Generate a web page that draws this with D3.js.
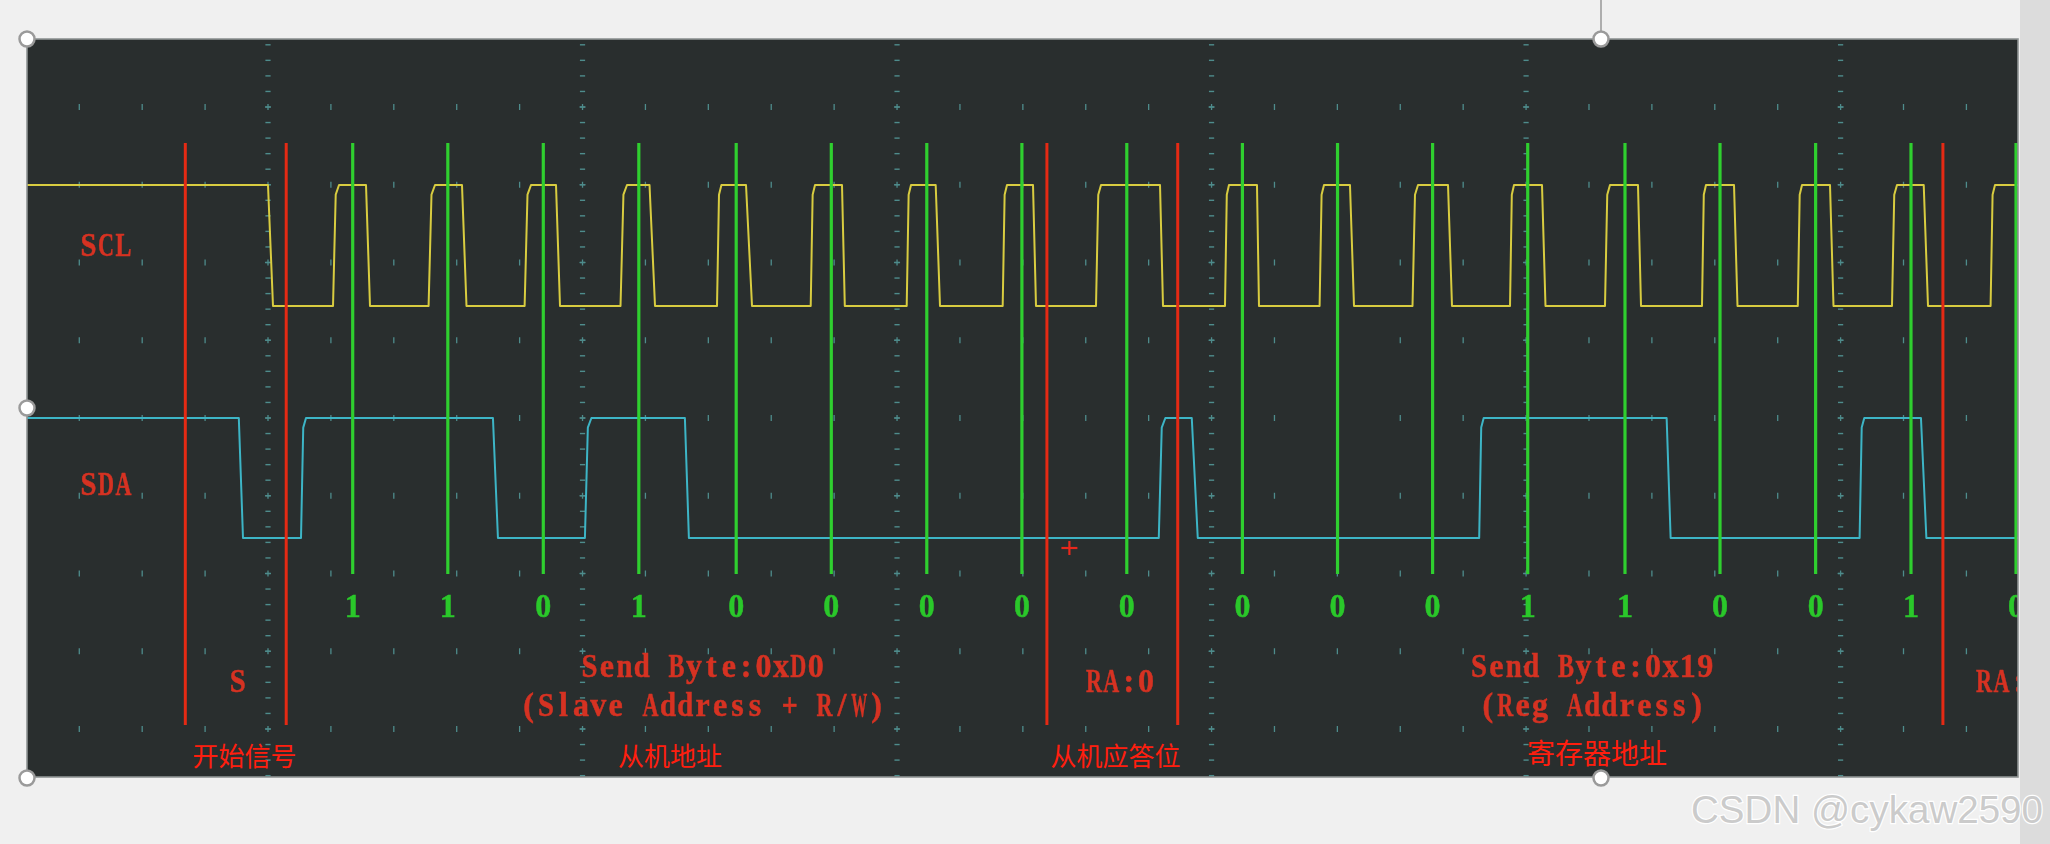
<!DOCTYPE html>
<html>
<head>
<meta charset="utf-8">
<script src="https://cdn.jsdelivr.net/npm/d3@7"></script>
<style>
html,body{margin:0;padding:0;background:#f0f0f0;}
svg{display:block;}
</style>
</head>
<body>
<svg id="chart" width="2050" height="844"></svg>
<script>
// ---------------- DATA (time in scope units, 10 units per major division) ----------------
const channelNames = ["SCL", "SDA"];

// green sampling markers (SCL high centre) and decoded bits
const clockTimes = [2.693, 5.717, 8.753, 11.790, 14.886, 17.910, 20.946, 23.970, 27.305,
                    30.981, 34.005, 37.028, 40.052, 43.145, 46.166, 49.206, 52.238, 55.577];
const bitValues  = [1, 1, 0, 1, 0, 0, 0, 0, 0, 0, 0, 0, 1, 1, 0, 0, 1, 0];

// red frame markers
const markerTimes = [-2.629, 0.579, 24.765, 28.924, 53.253];

// SCL: initial falling edge (start,end) then pulses [riseStart, riseEnd, fallStart, fallEnd]
const sclInitialFall = [0.0, 0.159];
const sclPulses = [
  [2.067, 2.258, 3.116, 3.243],
  [5.106, 5.310, 6.168, 6.311],
  [8.159, 8.362, 9.157, 9.284],
  [11.208, 11.414, 12.130, 12.305],
  [14.276, 14.416, 15.198, 15.389],
  [17.255, 17.392, 18.250, 18.339],
  [20.307, 20.444, 21.229, 21.366],
  [23.359, 23.496, 24.323, 24.418],
  [26.326, 26.485, 28.361, 28.456],
  [30.427, 30.554, 31.444, 31.508],
  [33.435, 33.575, 34.401, 34.529],
  [36.389, 36.564, 37.518, 37.645],
  [39.489, 39.616, 40.506, 40.617],
  [42.509, 42.668, 43.558, 43.654],
  [45.593, 45.720, 46.611, 46.722],
  [48.639, 48.773, 49.663, 49.774],
  [51.634, 51.793, 52.643, 52.779],
  [54.769, 54.909, 56.340, 56.470]
];

// SDA: starts high, edges [start, end, newLevel]
const sdaInitialLevel = 1;
const sdaEdges = [
  [-0.928, -0.795, 0],
  [1.049, 1.208, 1],
  [7.152, 7.311, 0],
  [10.076, 10.283, 1],
  [13.255, 13.382, 0],
  [28.322, 28.531, 1],
  [29.371, 29.561, 0],
  [38.509, 38.652, 1],
  [44.469, 44.596, 0],
  [50.604, 50.753, 1],
  [52.555, 52.727, 0]
];

// scope annotation texts and their time anchors
const startLabel = "S";
const startLabelTime = -0.962;
const byteLines = [["Send Byte:0xD0", "(Slave Address + R/W)"], ["Send Byte:0x19", "(Reg Address)"]];
const byteLabelTimes = [13.82, 42.10];
const ackLabels = ["RA:0", "RA:0"];
const ackLabelTimes = [27.089, 55.39];

// Chinese captions
const captions = ["开始信号", "从机地址", "从机应答位", "寄存器地址"];
const captionTimes = [-0.747, 12.781, 26.946, 42.255];

// cursor
const cursorTime = [25.48];

const watermark = "CSDN @cykaw2590";

// ---------------- LAYOUT ----------------
const svg = d3.select("#chart");
const panel = {x0: 27, x1: 2018, y0: 39, y1: 777};

const x = d3.scaleLinear().domain([0, 50]).range([268, 1840.6]);
const tMin = x.invert(panel.x0), tMax = x.invert(panel.x1);
const rowY = d3.scaleLinear().domain([0, 8]).range([107, 729]);
const sclY = d3.scaleLinear().domain([0, 1]).range([306, 185]);
const sdaY = d3.scaleLinear().domain([0, 1]).range([538, 418]);

svg.append("rect").attr("width", 2050).attr("height", 844).attr("fill", "#f0f0f0");

const defs = svg.append("defs");
defs.append("clipPath").attr("id", "clipP").append("rect")
  .attr("x", panel.x0).attr("y", panel.y0)
  .attr("width", panel.x1 - panel.x0).attr("height", panel.y1 - panel.y0);
const soft = defs.append("filter").attr("id", "soft").attr("x", "-10%").attr("y", "-30%").attr("width", "120%").attr("height", "160%");
soft.append("feGaussianBlur").attr("stdDeviation", 0.55);

svg.append("rect").attr("x", panel.x0).attr("y", panel.y0)
  .attr("width", panel.x1 - panel.x0).attr("height", panel.y1 - panel.y0)
  .attr("fill", "#292e2e");

const g = svg.append("g").attr("clip-path", "url(#clipP)");

// ---- grid ----
const gridColor = "#4e8c8c";
const grid = g.append("g");
const minorT = d3.range(Math.ceil(tMin / 2) * 2, tMax, 2);
const rows = d3.range(0, 9);
rows.forEach(r => {
  minorT.forEach(t => {
    const px = x(t), py = rowY(r);
    const major = Math.abs(t % 10) < 1e-6;
    grid.append("line").attr("x1", px).attr("x2", px).attr("y1", py - 3).attr("y2", py + 3)
      .attr("stroke", gridColor).attr("stroke-width", 1.3);
    if (major) {
      grid.append("line").attr("x1", px - 3).attr("x2", px + 3).attr("y1", py).attr("y2", py)
        .attr("stroke", gridColor).attr("stroke-width", 1.3);
    }
  });
});
const majorT = d3.range(Math.ceil(tMin / 10) * 10, tMax, 10);
const dashStep = (rowY(1) - rowY(0)) / 5;
const dashYs = d3.range(rowY(0) - dashStep * 4, panel.y1 + 1, dashStep);
majorT.forEach(t => {
  dashYs.forEach(py => {
    grid.append("line").attr("x1", x(t) - 2.6).attr("x2", x(t) + 2.6).attr("y1", py).attr("y2", py)
      .attr("stroke", gridColor).attr("stroke-width", 1.4);
  });
});

// ---- traces ----
const sclPts = [[tMin - 1, 1], [sclInitialFall[0], 1], [sclInitialFall[1], 0]];
sclPulses.forEach(([rs, re, fs, fe]) => {
  sclPts.push([rs, 0], [rs + 0.45 * (re - rs), 0.92], [re, 1], [fs, 1], [fe, 0]);
});
sclPts.push([tMax + 3, 0]);

const sdaPts = [[tMin - 1, sdaInitialLevel]];
let lvl = sdaInitialLevel;
sdaEdges.forEach(([s, e, nl]) => {
  sdaPts.push([s, lvl]);
  if (nl > lvl) sdaPts.push([s + 0.45 * (e - s), 0.92]);
  sdaPts.push([e, nl]);
  lvl = nl;
});
sdaPts.push([tMax + 3, lvl]);

g.append("path").datum(sclPts)
  .attr("d", d3.line().x(d => x(d[0])).y(d => sclY(d[1])))
  .attr("fill", "none").attr("stroke", "#d8cc40").attr("stroke-width", 2).attr("stroke-linejoin", "round");
g.append("path").datum(sdaPts)
  .attr("d", d3.line().x(d => x(d[0])).y(d => sdaY(d[1])))
  .attr("fill", "none").attr("stroke", "#3db5c6").attr("stroke-width", 2).attr("stroke-linejoin", "round");

// ---- green sample lines ----
g.selectAll("line.clk").data(clockTimes).enter().append("line")
  .attr("x1", d => x(d)).attr("x2", d => x(d))
  .attr("y1", 143).attr("y2", 574)
  .attr("stroke", "#2fcf2f").attr("stroke-width", 3.2);

// ---- red markers ----
g.selectAll("line.mk").data(markerTimes).enter().append("line")
  .attr("x1", d => x(d)).attr("x2", d => x(d))
  .attr("y1", 143).attr("y2", 725)
  .attr("stroke", "#e52a14").attr("stroke-width", 3);

// ---- scope style monospace text: one glyph per cell, squeezed by transform ----
const scopeFont = "'Liberation Serif', 'DejaVu Serif', serif";
const adv = 17.4, maxW = 16.0, sy = 1.06, fSize = 32;
function scopeText(str, cx, baseline, fill) {
  const start = cx - str.length * adv / 2;
  const grp = g.append("g").attr("filter", "url(#soft)");
  str.split("").forEach((ch, i) => {
    if (ch === " ") return;
    const t = grp.append("text")
      .attr("x", 0).attr("y", 0)
      .attr("text-anchor", "middle")
      .attr("font-family", scopeFont).attr("font-weight", "bold").attr("font-size", fSize)
      .attr("fill", fill).attr("stroke", fill).attr("stroke-width", 0.5)
      .text(ch);
    const w = t.node().getComputedTextLength();
    const sx = w > maxW ? maxW / w : 1;
    t.attr("transform", `translate(${start + (i + 0.5) * adv},${baseline}) scale(${sx},${sy})`);
  });
}
const scopeRed = "#d63222";
const bitGreen = "#2ac82a";

bitValues.forEach((b, i) => scopeText(String(b), x(clockTimes[i]), 617, bitGreen));

scopeText(channelNames[0], 106, 256, scopeRed);
scopeText(channelNames[1], 106, 495, scopeRed);
scopeText(startLabel, x(startLabelTime), 692, scopeRed);
byteLines.forEach((lines, i) => {
  scopeText(lines[0], x(byteLabelTimes[i]), 677, scopeRed);
  scopeText(lines[1], x(byteLabelTimes[i]), 716, scopeRed);
});
ackLabels.forEach((s, i) => scopeText(s, x(ackLabelTimes[i]), 692, scopeRed));

// ---- Chinese captions ----
captions.forEach((c, i) => {
  g.append("text")
    .attr("x", x(captionTimes[i])).attr("y", i === 3 ? 752 : 754)
    .attr("text-anchor", "middle").attr("dominant-baseline", "central")
    .attr("font-family", "'Noto Sans CJK SC', sans-serif")
    .attr("font-size", i === 3 ? 28 : 26)
    .attr("fill", "#ff1e0e")
    .text(c);
});

// ---- cursor ----
cursorTime.forEach(t => {
  const cx = x(t), cy = 548;
  g.append("line").attr("x1", cx - 8).attr("x2", cx + 8).attr("y1", cy).attr("y2", cy)
    .attr("stroke", "#e8281c").attr("stroke-width", 2.2);
  g.append("line").attr("x1", cx).attr("x2", cx).attr("y1", cy - 7).attr("y2", cy + 7)
    .attr("stroke", "#e8281c").attr("stroke-width", 2.2);
});

// ---- panel border ----
svg.append("rect").attr("x", panel.x0).attr("y", panel.y0)
  .attr("width", panel.x1 - panel.x0).attr("height", panel.y1 - panel.y0)
  .attr("fill", "none").attr("stroke", "#8f9494").attr("stroke-width", 1.6);

// right side strip
svg.append("rect").attr("x", 2020).attr("y", 0).attr("width", 30).attr("height", 844).attr("fill", "#dcdcdc");

// selection handles
svg.append("line").attr("x1", 1601).attr("x2", 1601).attr("y1", 0).attr("y2", 32)
  .attr("stroke", "#8a8a8a").attr("stroke-width", 1.3);
[[27, 39], [27, 408], [27, 778], [1601, 39], [1601, 778]].forEach(([hx, hy]) => {
  svg.append("circle").attr("cx", hx).attr("cy", hy).attr("r", 7.5)
    .attr("fill", "#ffffff").attr("stroke", "#9a9a9a").attr("stroke-width", 2.5);
});

// watermark
svg.append("text").attr("x", 1691).attr("y", 823)
  .attr("font-family", "'Liberation Sans', Arial, sans-serif").attr("font-size", 39)
  .attr("textLength", 352).attr("lengthAdjust", "spacingAndGlyphs")
  .attr("fill", "#cbcbcb").attr("stroke", "#ffffff").attr("stroke-width", 2.5)
  .attr("paint-order", "stroke")
  .text(watermark);
</script>
</body>
</html>
